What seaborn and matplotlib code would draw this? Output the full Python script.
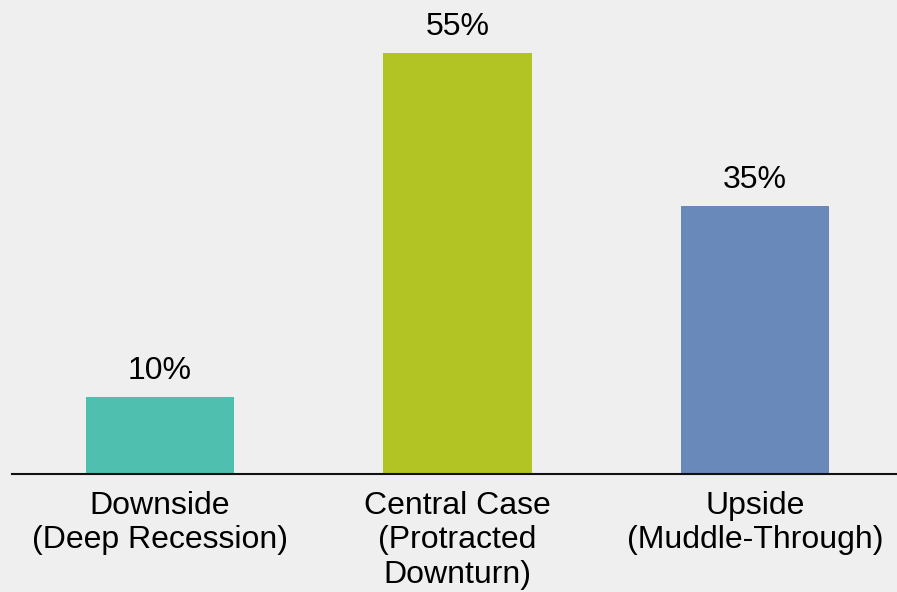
import matplotlib
matplotlib.use("Agg")
import matplotlib.pyplot as plt
import seaborn as sns
import pandas as pd

# datos del grafico
escenarios = ["Downside\n(Deep Recession)", "Central Case\n(Protracted\nDownturn)", "Upside\n(Muddle-Through)"]
probabilidad = [10, 55, 35]
colores = ["#4fbfb0", "#b2c424", "#6a89bb"]

sns.set_style("white")
plt.rcParams["font.family"] = ["Liberation Sans", "DejaVu Sans"]
plt.rcParams["text.color"] = "black"
plt.rcParams["xtick.color"] = "black"

df = pd.DataFrame({"escenario": escenarios, "prob": probabilidad})

fig = plt.figure(figsize=(8.97, 5.92), dpi=100)
fig.patch.set_facecolor("#efefef")
ax = fig.add_axes([12 / 897, 118 / 592, 885 / 897, 474 / 592])
ax.set_facecolor("#efefef")

sns.barplot(data=df, x="escenario", y="prob", hue="escenario", palette=colores,
            width=0.5, legend=False, saturation=1, linewidth=0, ax=ax)

ax.set_xlim(-0.497, 2.477)
ax.set_ylim(0, 61.96)
ax.set_xlabel("")
ax.set_ylabel("")
ax.set_yticks([])
for s in ["top", "right", "left"]:
    ax.spines[s].set_visible(False)
ax.spines["bottom"].set_color("#111111")
ax.spines["bottom"].set_linewidth(1.5)
ax.tick_params(axis="x", length=0, pad=12, labelsize=23, labelcolor="black")

for p in ax.patches:
    h = p.get_height()
    ax.annotate(f"{int(h)}%", (p.get_x() + p.get_width() / 2., h),
                textcoords="offset points", xytext=(0, 13),
                ha="center", va="baseline", fontsize=23, color="black")

fig.savefig("out.png", dpi=100, facecolor=fig.get_facecolor())
